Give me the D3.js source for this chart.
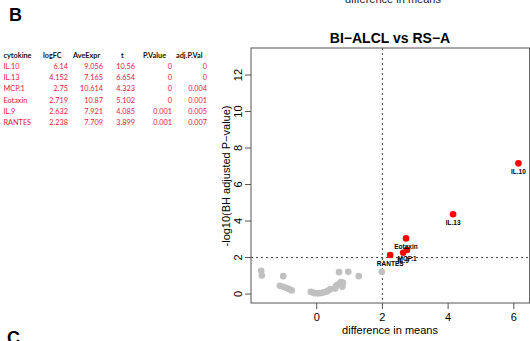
<!DOCTYPE html>
<html>
<head>
<meta charset="utf-8">
<script src="https://cdn.jsdelivr.net/npm/d3@7"></script>
<style>
  body { margin: 0; background: #fff; }
  svg { display: block; }
</style>
</head>
<body>
<script>
// table data
const tableHeader = ["cytokine", "logFC", "AveExpr", "t", "P.Value", "adj.P.Val"];
const cytokines = ["IL.10", "IL.13", "MCP.1", "Eotaxin", "IL.9", "RANTES"];
const logFC = ["6.14", "4.152", "2.75", "2.719", "2.632", "2.238"];
const aveExpr = ["9.056", "7.165", "10.614", "10.87", "7.921", "7.709"];
const tStat = ["10.56", "6.654", "4.323", "5.102", "4.085", "3.899"];
const pValue = ["0", "0", "0", "0", "0.001", "0.001"];
const adjPVal = ["0", "0", "0.004", "0.001", "0.005", "0.007"];

// significant points (difference in means, -log10 adj p)
const sigNames = ["IL.10", "IL.13", "Eotaxin", "MCP.1", "IL.9", "RANTES"];
const sigX = [6.14, 4.152, 2.719, 2.75, 2.632, 2.238];
const sigY = [7.16, 4.37, 3.05, 2.41, 2.26, 2.14];

// non-significant points
const nsX = [-1.69, -1.67, -1.02, -1.12, -1.02, -0.92, -0.84, -0.76, -0.18, -0.12, -0.05, 0.02, 0.08, 0.14,
             0.20, 0.26, 0.32, 0.38, 0.42, 0.56, 0.58, 0.62, 0.70, 0.74, 0.78, 0.80, 0.68, 0.96, 1.28, 1.98];
const nsY = [1.27, 1.02, 0.98, 0.45, 0.40, 0.33, 0.27, 0.20, 0.12, 0.08, 0.05, 0.04, 0.05, 0.06,
             0.08, 0.11, 0.15, 0.22, 0.28, 0.30, 0.42, 0.50, 0.58, 0.66, 0.40, 0.62, 1.20, 1.22, 0.98, 1.22];

const xTicks = [0, 2, 4, 6];
const yTicks = [0, 2, 4, 6, 8, 10, 12];
const cutoffX = 2, cutoffY = 2;

const W = 530, H = 341;
const svg = d3.select("body").append("svg").attr("width", W).attr("height", H);

// panel letters
svg.append("text").attr("x", 9).attr("y", 21)
  .style("font-family", "Liberation Sans, Arial, sans-serif")
  .style("font-size", "18px").style("font-weight", "bold").text("B");
svg.append("text").attr("x", 7).attr("y", 344)
  .style("font-family", "Liberation Sans, Arial, sans-serif")
  .style("font-size", "18px").style("font-weight", "bold").text("C");

// leftover axis title from the panel above
svg.append("text").attr("x", 393).attr("y", 3).attr("text-anchor", "middle")
  .style("font-family", "Liberation Sans, Arial, sans-serif")
  .style("font-size", "11px").style("fill", "#222").text("difference in means");

// table
const tf = "Lato, 'Open Sans', sans-serif";
const headX = [3.5, 43, 73, 121, 143, 176];
const colEnd = [null, 68, 103, 135, 172, 207];
const rowY0 = 57.5, rowStep = 11.3;
const tbl = svg.append("g");
tbl.selectAll("text.h").data(tableHeader).enter().append("text")
  .attr("x", (d, i) => headX[i]).attr("y", rowY0)
  .style("font-family", tf).style("font-size", "7.3px").style("font-weight", "bold")
  .style("fill", "#111").text(d => d);
const cols = [cytokines, logFC, aveExpr, tStat, pValue, adjPVal];
cols.forEach((col, ci) => {
  tbl.selectAll("text.c" + ci).data(col).enter().append("text")
    .attr("x", ci === 0 ? 3.5 : colEnd[ci])
    .attr("y", (d, i) => rowY0 + rowStep * (i + 1))
    .attr("text-anchor", ci === 0 ? "start" : "end")
    .style("font-family", tf).style("font-size", "7.3px")
    .style("fill", "#e8173a").text(d => d);
});

// volcano plot
const x = d3.scaleLinear().domain([-2.0, 6.45]).range([251, 528.6]);
const y = d3.scaleLinear().domain([-0.49, 13.48]).range([303, 48]);
const af = "Liberation Sans, Arial, Helvetica, sans-serif";

svg.append("text").attr("x", 390).attr("y", 43).attr("text-anchor", "middle")
  .style("font-family", af).style("font-size", "14px").style("font-weight", "bold")
  .text("BI\u2212ALCL vs RS\u2212A");

// x axis ticks and labels
svg.append("g").selectAll("line").data(xTicks).enter().append("line")
  .attr("x1", d => x(d)).attr("x2", d => x(d)).attr("y1", 303).attr("y2", 309)
  .attr("stroke", "#555");
svg.append("g").selectAll("text").data(xTicks).enter().append("text")
  .attr("x", d => x(d)).attr("y", 321).attr("text-anchor", "middle")
  .style("font-family", af).style("font-size", "11px").text(d => d);
svg.append("text").attr("x", 390).attr("y", 334).attr("text-anchor", "middle")
  .style("font-family", af).style("font-size", "11px").text("difference in means");

// y axis ticks and labels
svg.append("g").selectAll("line").data(yTicks).enter().append("line")
  .attr("x1", 245).attr("x2", 251).attr("y1", d => y(d)).attr("y2", d => y(d))
  .attr("stroke", "#555");
svg.append("g").selectAll("text").data(yTicks).enter().append("text")
  .attr("transform", d => `translate(242,${y(d)}) rotate(-90)`)
  .attr("text-anchor", "middle")
  .style("font-family", af).style("font-size", "11px").text(d => d);
svg.append("text").attr("transform", "translate(230,176) rotate(-90)")
  .attr("text-anchor", "middle")
  .style("font-family", af).style("font-size", "11px")
  .text("-log10(BH adjusted P\u2212value)");

// cutoff lines
svg.append("line").attr("x1", x(cutoffX)).attr("x2", x(cutoffX)).attr("y1", 48).attr("y2", 303)
  .attr("stroke", "#444").attr("stroke-dasharray", "2,3");
svg.append("line").attr("x1", 251).attr("x2", 530).attr("y1", y(cutoffY)).attr("y2", y(cutoffY))
  .attr("stroke", "#444").attr("stroke-dasharray", "2,3");

// points
svg.append("g").selectAll("circle").data(nsX.map((v, i) => [v, nsY[i]])).enter().append("circle")
  .attr("cx", d => x(d[0])).attr("cy", d => y(d[1])).attr("r", 3.3).attr("fill", "#c0c0c0");
svg.append("g").selectAll("circle").data(sigX.map((v, i) => [v, sigY[i]])).enter().append("circle")
  .attr("cx", d => x(d[0])).attr("cy", d => y(d[1])).attr("r", 3.3).attr("fill", "#ff0000");
svg.append("g").selectAll("text").data(sigNames).enter().append("text")
  .attr("x", (d, i) => x(sigX[i])).attr("y", (d, i) => y(sigY[i]) + 10.6)
  .attr("text-anchor", "middle")
  .style("font-family", af).style("font-size", "6.5px").style("font-weight", "bold")
  .text(d => d);

// box
svg.append("rect").attr("x", 251).attr("y", 48).attr("width", 278.6).attr("height", 255)
  .attr("fill", "none").attr("stroke", "#555");
</script>
</body>
</html>
